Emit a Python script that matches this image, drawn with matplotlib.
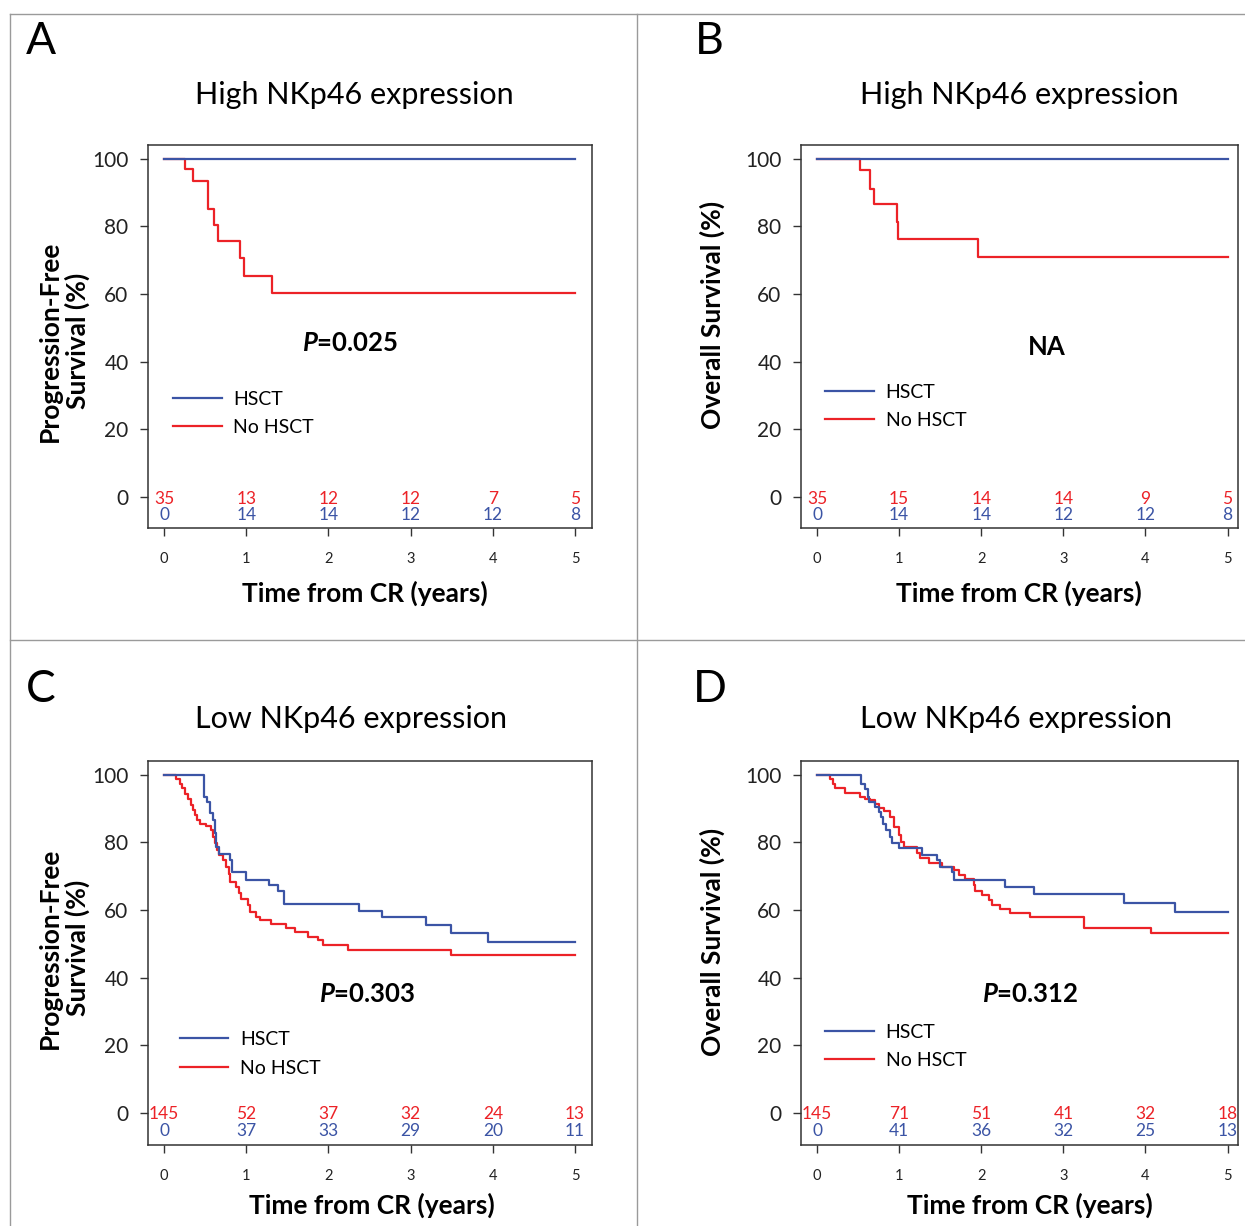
import matplotlib
matplotlib.use("Agg")
import matplotlib.pyplot as plt
from matplotlib.lines import Line2D

plt.rcParams['font.family'] = ['Lato', 'DejaVu Sans']

# ---------------- data ----------------
years = [0, 1, 2, 3, 4, 5]
yticks = [0, 20, 40, 60, 80, 100]

A_hsct_t = [0, 5]
A_hsct_s = [100, 100]
A_nohsct_t = [0, 0.26, 0.35, 0.53, 0.61, 0.66, 0.925, 0.97, 1.31, 5]
A_nohsct_s = [100, 97.1, 93.4, 85.2, 80.5, 75.7, 70.6, 65.4, 60.3, 60.3]
A_risk_nohsct = [35, 13, 12, 12, 7, 5]
A_risk_hsct = [0, 14, 14, 12, 12, 8]

B_hsct_t = [0, 5]
B_hsct_s = [100, 100]
B_nohsct_t = [0, 0.52, 0.65, 0.69, 0.98, 0.99, 1.96, 5]
B_nohsct_s = [100, 96.7, 91.2, 86.5, 81.4, 76.3, 71.1, 71.1]
B_risk_nohsct = [35, 15, 14, 14, 9, 5]
B_risk_hsct = [0, 14, 14, 12, 12, 8]

C_hsct_t = [0, 0.487, 0.528, 0.556, 0.597, 0.617, 0.638, 0.670, 0.80, 0.833, 0.995,
            1.278, 1.39, 1.457, 2.374, 2.65, 3.19, 3.49, 3.94, 5]
C_hsct_s = [100, 93.3, 92.0, 88.6, 86.6, 82.7, 78.7, 76.7, 74.8, 71.3, 69.0,
            67.4, 65.6, 61.9, 59.8, 58.0, 55.7, 53.3, 50.6, 50.6]
C_nohsct_t = [0, 0.142, 0.199, 0.224, 0.252, 0.292, 0.325, 0.353, 0.374, 0.402, 0.435,
              0.516, 0.577, 0.597, 0.617, 0.645, 0.670, 0.718, 0.760, 0.788, 0.80,
              0.881, 0.913, 0.942, 1.023, 1.043, 1.125, 1.165, 1.307, 1.482, 1.591,
              1.753, 1.875, 1.936, 2.233, 3.49, 5]
C_nohsct_s = [100, 98.9, 97.4, 96.0, 94.2, 93.0, 91.2, 89.6, 88.1, 86.6, 85.6,
              84.8, 83.6, 81.7, 79.7, 77.7, 76.2, 74.8, 72.8, 70.8, 68.3,
              66.9, 64.9, 63.2, 61.4, 59.5, 58.0, 57.0, 56.0, 54.6, 53.6,
              52.1, 51.1, 49.6, 48.3, 46.7, 46.7]
C_risk_nohsct = [145, 52, 37, 32, 24, 13]
C_risk_hsct = [0, 37, 33, 29, 20, 11]

D_hsct_t = [0, 0.536, 0.588, 0.617, 0.629, 0.71, 0.75, 0.779, 0.804, 0.844, 0.893,
            0.913, 0.994, 1.278, 1.461, 1.501, 1.644, 1.672, 2.285, 2.64, 3.74, 4.365, 5]
D_hsct_s = [100, 97.4, 95.8, 93.5, 92.0, 90.5, 89.1, 87.6, 85.6, 83.6, 81.7,
            79.9, 78.4, 76.4, 74.8, 72.8, 71.3, 68.8, 66.9, 64.7, 62.1, 59.3, 59.3]
D_nohsct_t = [0, 0.162, 0.195, 0.223, 0.345, 0.527, 0.588, 0.641, 0.71, 0.75, 0.811,
              0.893, 0.933, 0.994, 1.023, 1.055, 1.218, 1.258, 1.359, 1.522, 1.664,
              1.724, 1.806, 1.907, 1.928, 2.009, 2.09, 2.131, 2.232, 2.355, 2.59,
              3.255, 4.07, 5]
D_nohsct_s = [100, 98.9, 97.4, 96.2, 94.5, 93.5, 93.0, 92.5, 91.5, 90.3, 89.2,
              87.6, 84.6, 82.2, 80.0, 78.7, 77.0, 75.5, 73.8, 72.8, 71.8,
              70.3, 69.1, 67.4, 65.6, 64.4, 62.9, 61.5, 60.3, 59.0, 57.9,
              54.7, 53.3, 53.3]
D_risk_nohsct = [145, 71, 51, 41, 32, 18]
D_risk_hsct = [0, 41, 36, 32, 25, 13]

# ---------------- style ----------------
W, H = 1245, 1226
BLUE = '#3b54a5'
RED = '#ec2227'
GRAY = '#9a9a9a'
AXC = '#333333'

plt.rcParams['mathtext.fontset'] = 'custom'
plt.rcParams['mathtext.bfit'] = 'Lato:bold:italic'
plt.rcParams['mathtext.bf'] = 'Lato:bold'

fig = plt.figure(figsize=(W / 100, H / 100), dpi=100)


def fx(x):
    return x / W


def fy(y):
    return 1 - y / H


def add_panel(box, xlim, ylim, nohsct, hsct, risk_r, risk_b, ylabel, ylabel_xy,
              xlabel_xy, title, title_xy, letter, letter_xy, stat, stat_style, stat_pos, leg_pos):
    x0, y0, x1, y1 = box
    ax = fig.add_axes([fx(x0), fy(y1), (x1 - x0) / W, (y1 - y0) / H])
    ax.step(nohsct[0], nohsct[1], where='post', color=RED, lw=1.6, label='No HSCT')
    ax.step(hsct[0], hsct[1], where='post', color=BLUE, lw=1.6, label='HSCT')
    ax.set_xlim(*xlim)
    ax.set_ylim(*ylim)
    ax.set_xticks(years)
    ax.set_yticks(yticks)
    ax.tick_params(axis='y', direction='out', length=6, width=1, colors=AXC,
                   labelsize=15, pad=8, labelcolor='#222222')
    ax.tick_params(axis='x', direction='out', length=6, width=1, colors=AXC,
                   labelsize=10.5, pad=11, labelcolor='#222222')
    for s in ax.spines.values():
        s.set_color(AXC)
        s.set_linewidth(1.1)
    for xi, r, b in zip(years, risk_r, risk_b):
        ax.text(xi, -0.5, str(r), color=RED, fontsize=12.5, ha='center', va='center')
        ax.text(xi, -5.5, str(b), color=BLUE, fontsize=12.5, ha='center', va='center')
    handles = [Line2D([], [], color=BLUE, lw=1.6), Line2D([], [], color=RED, lw=1.6)]
    ax.legend(handles, ['HSCT', 'No HSCT'], loc='center left', bbox_to_anchor=leg_pos,
              bbox_transform=ax.transData, frameon=False, fontsize=14,
              handlelength=2.5, handletextpad=0.6, labelspacing=0.58,
              borderpad=0, borderaxespad=0)
    if stat_style == 'p':
        ax.text(stat_pos[0], stat_pos[1], r'$\boldsymbol{P}$=' + stat, fontsize=18.5,
                fontweight='bold', ha='center', va='center')
    else:
        ax.text(stat_pos[0], stat_pos[1], stat, fontsize=18.5, fontweight='bold',
                ha='center', va='center')
    fig.text(fx(ylabel_xy[0]), fy(ylabel_xy[1]), ylabel, rotation=90, fontsize=19,
             fontweight='bold', ha='center', va='center', linespacing=1.12)
    fig.text(fx(xlabel_xy[0]), fy(xlabel_xy[1]), 'Time from CR (years)', fontsize=19,
             fontweight='bold', ha='center', va='center')
    fig.text(fx(title_xy[0]), fy(title_xy[1]), title, fontsize=22, ha='center', va='center')
    fig.text(fx(letter_xy[0]), fy(letter_xy[1]), letter, fontsize=32, ha='center', va='center')
    return ax


pfs = 'Progression-Free\nSurvival (%)'
osl = 'Overall Survival (%)'

add_panel((148, 145, 592, 528), (-0.195, 5.207), (-9.2, 104.1),
          (A_nohsct_t, A_nohsct_s), (A_hsct_t, A_hsct_s), A_risk_nohsct, A_risk_hsct,
          pfs, (64, 341), (365, 593), 'High NKp46 expression', (354, 95), 'A', (41, 42),
          '0.025', 'p', (2.26, 45.6), (0.11, 24.7))
add_panel((801, 145, 1238, 528), (-0.195, 5.127), (-9.2, 104.1),
          (B_nohsct_t, B_nohsct_s), (B_hsct_t, B_hsct_s), B_risk_nohsct, B_risk_hsct,
          osl, (712, 315), (1019, 593), 'High NKp46 expression', (1019, 95), 'B', (709, 42),
          'NA', 'na', (2.8, 44.4), (0.10, 26.8))
add_panel((148, 761, 592, 1145), (-0.195, 5.207), (-9.56, 104.1),
          (C_nohsct_t, C_nohsct_s), (C_hsct_t, C_hsct_s), C_risk_nohsct, C_risk_hsct,
          pfs, (64, 948), (372, 1205), 'Low NKp46 expression', (351, 719), 'C', (41, 689),
          '0.303', 'p', (2.47, 35.1), (0.19, 17.4))
add_panel((801, 761, 1238, 1145), (-0.195, 5.127), (-9.56, 104.1),
          (D_nohsct_t, D_nohsct_s), (D_hsct_t, D_hsct_s), D_risk_nohsct, D_risk_hsct,
          osl, (712, 942), (1030, 1205), 'Low NKp46 expression', (1016, 719), 'D', (710, 689),
          '0.312', 'p', (2.6, 35.1), (0.10, 19.7))

# panel frame lines
for (xa, ya, xb, yb) in [(10, 14, 1245, 14), (10, 14, 10, 1226), (637, 14, 637, 1226),
                         (10, 640, 1245, 640)]:
    fig.add_artist(Line2D([fx(xa), fx(xb)], [fy(ya), fy(yb)], color=GRAY, lw=1.0))

fig.savefig('out.png', dpi=100)
